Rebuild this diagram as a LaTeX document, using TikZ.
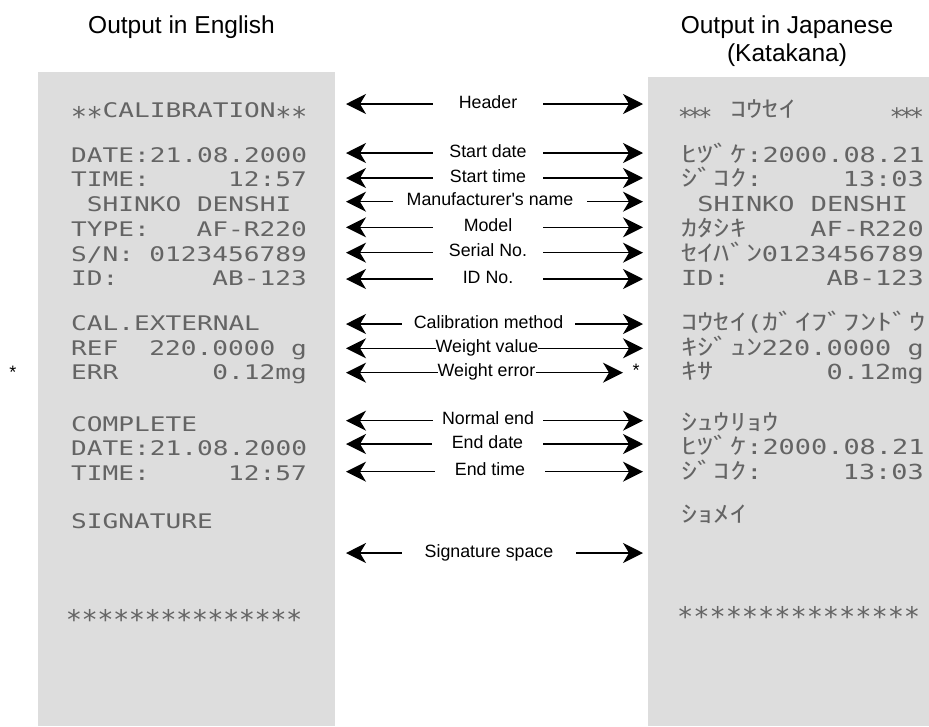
\documentclass[tikz,border=0pt]{standalone}
\usepackage{fontspec}
\setmainfont{Liberation Sans}
\newfontfamily\dotfont[FakeStretch=1.3]{DejaVu Sans Mono}
\newfontfamily\starfont{DejaVu Sans Mono}
\newfontfamily\jpfont[FakeStretch=1.43,Scale=1.1]{Noto Sans CJK JP}
\usetikzlibrary{arrows.meta}
\definecolor{paper}{RGB}{221,221,221}
\definecolor{inkc}{RGB}{100,100,100}
\tikzset{
  lab/.style={font=\fontsize{17.8}{20}\selectfont, inner xsep=0pt, inner ysep=0pt,
    text height=11pt, text depth=3pt, anchor=center},
  arr/.style={line width=1.5pt, -{Stealth[length=20pt,width=20pt,inset=6pt]}},
  ttl/.style={font=\fontsize{24.5}{28}\selectfont, inner sep=0pt, anchor=base},
  note/.style={font=\fontsize{18}{20}\selectfont, inner sep=0pt, anchor=base},
  tl/.style={font=\fontsize{20.1}{24}\dotfont, text=inkc, inner sep=0pt, anchor=base west},
  trr/.style={font=\fontsize{20.1}{24}\dotfont, text=inkc, inner sep=0pt, anchor=base east},
  jl/.style={font=\fontsize{20.7}{24}\dotfont, text=inkc, inner sep=0pt, anchor=base west},
  jr/.style={font=\fontsize{20.7}{24}\dotfont, text=inkc, inner sep=0pt, anchor=base east},
}
\newcommand\arow[6]{%
  \node[lab, minimum width=#4pt] (#1) at (#3,#2) {#5};
  \coordinate (#1L) at (346,#2);
  \coordinate (#1R) at (#6,#2);
  \draw[arr] (#1.west) -- (#1L);
  \draw[arr] (#1.east) -- (#1R);}
\newcommand\stL{\makebox[15.73pt]{\raisebox{-9pt}{\fontsize{27}{27}\starfont *}}}
\newcommand\stR{\makebox[16.2pt]{\raisebox{-9pt}{\fontsize{27}{27}\starfont *}}}
\newcommand\stH{\makebox[10pt]{\raisebox{-8pt}{\fontsize{24}{24}\starfont *}}}
\begin{document}
\begin{tikzpicture}[x=1pt,y=-1pt]
\useasboundingbox (0,0) rectangle (929,726);
% titles
\node[ttl] (t1) at (181.5,33) {Output in English};
\node[ttl] (t2) at (787,33) {Output in Japanese};
\node[ttl] (t3) at (787,61) {(Katakana)};
% receipts
\fill[paper] (38,72) rectangle (335,726);
\fill[paper] (648,77) rectangle (929,726);
% left receipt
\node[tl] (l1) at (71,117) {\stL\stL CALIBRATION\stL\stL};
\node[tl] (l2) at (71,162) {DATE:21.08.2000};
\node[tl] (l3) at (71,186.5) {TIME:};
\node[trr] (l3r) at (307,186.5) {12:57};
\node[tl] (l4) at (86.7,211) {SHINKO DENSHI};
\node[tl] (l5) at (71,236) {TYPE:};
\node[trr] (l5r) at (307,236) {AF-R220};
\node[tl] (l6) at (71,261) {S/N:};
\node[trr] (l6r) at (307,261) {0123456789};
\node[tl] (l7) at (71,285) {ID:};
\node[trr] (l7r) at (307,285) {AB-123};
\node[tl] (l8) at (71,330) {CAL.EXTERNAL};
\node[tl] (l9) at (71,355) {REF};
\node[trr] (l9r) at (275.5,355) {220.0000};
\node[trr] (l9g) at (307,355) {g};
\node[tl] (l10) at (71,379.5) {ERR};
\node[trr] (l10r) at (307,379.5) {0.12mg};
\node[tl] (l11) at (71,431) {COMPLETE};
\node[tl] (l12) at (71,455.5) {DATE:21.08.2000};
\node[tl] (l13) at (71,480) {TIME:};
\node[trr] (l13r) at (307,480) {12:57};
\node[tl] (l14) at (71,528) {SIGNATURE};
\node[tl] (l15) at (66,620) {\stL\stL\stL\stL\stL\stL\stL\stL\stL\stL\stL\stL\stL\stL\stL};
% right receipt
\node[jl] (r1s) at (680,117) {\stH\stH\stH};
\node[jl] (r1k) at (730,117) {{\jpfont ｺｳｾｲ}};
\node[jr] (r1e) at (922,117) {\stH\stH\stH};
\node[jl] (r2) at (681,162) {{\jpfont ﾋﾂﾞｹ}:2000.08.21};
\node[jl] (r3) at (681,186.5) {{\jpfont ｼﾞｺｸ}:};
\node[jr] (r3r) at (924,186.5) {13:03};
\node[jl] (r4) at (697.2,211) {SHINKO DENSHI};
\node[jl] (r5) at (681,236) {{\jpfont ｶﾀｼｷ}};
\node[jr] (r5r) at (924,236) {AF-R220};
\node[jl] (r6) at (681,261) {{\jpfont ｾｲﾊﾞﾝ}};
\node[jr] (r6r) at (924,261) {0123456789};
\node[jl] (r7) at (681,285) {ID:};
\node[jr] (r7r) at (924,285) {AB-123};
\node[jl] (r8) at (681,330.5) {{\jpfont ｺｳｾｲ}({\jpfont ｶﾞｲﾌﾞﾌﾝﾄﾞｳ}};
\node[jl] (r9) at (681,355) {{\jpfont ｷｼﾞｭﾝ}};
\node[jr] (r9r) at (891.6,355) {220.0000};
\node[jr] (r9g) at (924,355) {g};
\node[jl] (r10) at (681,379.5) {{\jpfont ｷｻ}};
\node[jr] (r10r) at (924,379.5) {0.12mg};
\node[jl] (r11) at (681,430) {{\jpfont ｼｭｳﾘｮｳ}};
\node[jl] (r12) at (681,454.5) {{\jpfont ﾋﾂﾞｹ}:2000.08.21};
\node[jl] (r13) at (681,479) {{\jpfont ｼﾞｺｸ}:};
\node[jr] (r13r) at (924,479) {13:03};
\node[jl] (r14) at (681,522) {{\jpfont ｼｮﾒｲ}};
\node[jl] (r15) at (677,617) {\stR\stR\stR\stR\stR\stR\stR\stR\stR\stR\stR\stR\stR\stR\stR};
% arrows
\arow{a1}{104}{488}{110}{Header}{643}
\arow{a2}{153}{488}{110}{Start date}{643}
\arow{a3}{178}{488}{110}{Start time}{643}
\arow{a4}{201.7}{490}{194}{Manufacturer\textquotesingle s name}{643}
\arow{a5}{227.3}{488}{110}{Model}{643}
\arow{a6}{252.7}{488}{110}{Serial No.}{643}
\arow{a7}{279}{488}{110}{ID No.}{643}
\arow{a8}{324}{488.5}{173}{Calibration method}{643}
\arow{a9}{348.3}{487}{0}{Weight value}{643}
\arow{a10}{372.7}{486.5}{0}{Weight error}{623}
\arow{a11}{420.7}{488}{110}{Normal end}{643}
\arow{a12}{444}{487.5}{111}{End date}{643}
\arow{a13}{471.7}{490}{110}{End time}{643}
\arow{a14}{553}{489}{174}{Signature space}{643}
% asterisks
\node[note] (s1) at (13,378) {*};
\node[note] (s2) at (636,376) {*};
\end{tikzpicture}
\end{document}
